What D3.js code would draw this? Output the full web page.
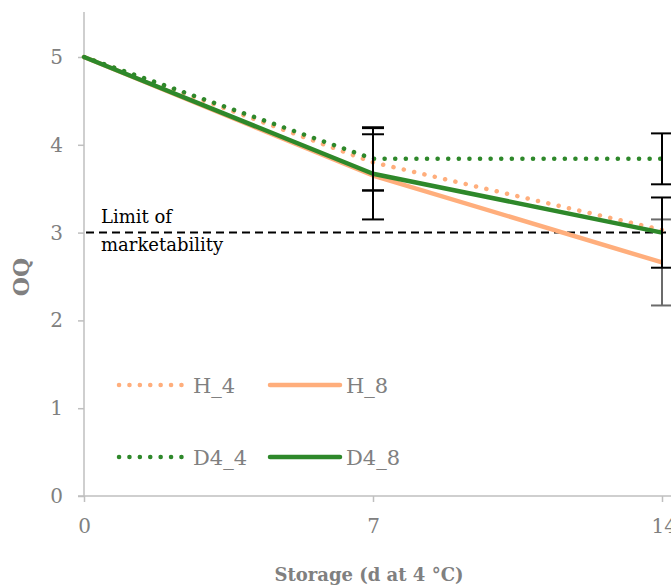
<!DOCTYPE html>
<html>
<head>
<meta charset="utf-8">
<script src="https://cdn.jsdelivr.net/npm/d3@7"></script>
<style>
  body { margin: 0; background: #fff; }
  text { font-family: 'DejaVu Serif', 'Liberation Serif', serif; }
</style>
</head>
<body>
<svg id="chart" width="671" height="587"></svg>
<script>
// data
const days = [0, 7, 14];
const xTicks = [0, 7, 14];
const yTicks = [0, 1, 2, 3, 4, 5];
const limitValue = 3;

const h4 = [5, 3.80, 3.03];
const h8 = [5, 3.65, 2.66];
const d44 = [5, 3.84, 3.84];
const d48 = [5, 3.67, 3.00];

const h4Err = [0, 0.32, 0];
const h8Err = [0, 0, 0.49];
const d44Err = [0, 0.36, 0.29];
const d48Err = [0, 0.52, 0.40];

const orange = '#ffae7c',
    green = '#2e882a';

const series = [
    { name: 'H_4', values: h4, err: h4Err, color: orange, dotted: true, errColor: '#000' },
    { name: 'H_8', values: h8, err: h8Err, color: orange, dotted: false, errColor: '#6b6b6b' },
    { name: 'D4_4', values: d44, err: d44Err, color: green, dotted: true, errColor: '#000' },
    { name: 'D4_8', values: d48, err: d48Err, color: green, dotted: false, errColor: '#000' }
];

const svg = d3.select('#chart');

const x = d3.scaleLinear().domain([0, 14]).range([84, 662]);
const y = d3.scaleLinear().domain([0, 5]).range([496, 57]);

// axes
const yAxis = svg.append('g')
    .attr('transform', 'translate(84,0)')
    .call(d3.axisLeft(y).tickValues(yTicks).tickSize(6).tickPadding(15).tickFormat(d3.format('d')));
yAxis.select('.domain').attr('d', 'M0,12V496');

const xAxis = svg.append('g')
    .attr('transform', 'translate(0,496)')
    .call(d3.axisBottom(x).tickValues(xTicks).tickSize(6).tickPadding(17).tickFormat(d3.format('d')));
xAxis.select('.domain').attr('d', 'M78,0H671');

svg.selectAll('.domain, .tick line')
    .attr('stroke', '#bfbfbf')
    .attr('stroke-width', 1.5);
svg.selectAll('.tick text')
    .attr('fill', '#808080')
    .style('font-size', '20px')
    .style('font-family', "'DejaVu Serif', serif");
xAxis.selectAll('.tick text').filter(d => d === 14).attr('text-anchor', 'start').attr('dx', -11);

// axis titles
svg.append('text')
    .attr('x', 369)
    .attr('y', 581)
    .attr('text-anchor', 'middle')
    .attr('fill', '#808080')
    .style('font-size', '18px')
    .style('font-weight', 'bold')
    .text('Storage (d at 4 °C)');

svg.append('text')
    .attr('transform', 'translate(29,277) rotate(-90)')
    .attr('text-anchor', 'middle')
    .attr('fill', '#808080')
    .style('font-size', '22px')
    .style('font-weight', 'bold')
    .text('OQ');

// limit line
svg.append('line')
    .attr('x1', x(0) + 2)
    .attr('x2', 671)
    .attr('y1', y(limitValue))
    .attr('y2', y(limitValue))
    .attr('stroke', '#000')
    .attr('stroke-width', 2)
    .attr('stroke-dasharray', '8,5');

const limitLabel = svg.append('text')
    .attr('fill', '#000')
    .style('font-size', '18px');
limitLabel.append('tspan').attr('x', 101).attr('y', 223).text('Limit of');
limitLabel.append('tspan').attr('x', 101).attr('y', 251).text('marketability');

// lines
const line = d3.line()
    .x((d, i) => x(days[i]))
    .y(d => y(d));

series.forEach(s => {
    svg.append('path')
        .attr('d', line(s.values))
        .attr('fill', 'none')
        .attr('stroke', s.color)
        .attr('stroke-width', 4.5)
        .attr('stroke-linecap', s.dotted ? 'round' : 'butt')
        .attr('stroke-linejoin', 'round')
        .attr('stroke-dasharray', s.dotted ? '0.1,10.5' : null);
});

// error bars, grey H_8 first so the black ones sit on top
const errOrder = [series[1], series[0], series[2], series[3]];
errOrder.forEach(s => {
    s.values.forEach((v, i) => {
        if (!s.err[i]) return;
        const cx = x(days[i]),
            top = y(v + s.err[i]),
            bot = y(v - s.err[i]);
        const g = svg.append('g').attr('stroke', s.errColor).attr('stroke-width', 2);
        g.append('line').attr('x1', cx).attr('x2', cx).attr('y1', top).attr('y2', bot);
        g.append('line').attr('x1', cx - 11).attr('x2', cx + 11).attr('y1', top).attr('y2', top);
        g.append('line').attr('x1', cx - 11).attr('x2', cx + 11).attr('y1', bot).attr('y2', bot);
    });
});

// legend
const legendPos = [
    { lx: 117, ly: 385 },
    { lx: 270, ly: 385 },
    { lx: 117, ly: 457 },
    { lx: 270, ly: 457 }
];

series.forEach((s, i) => {
    const p = legendPos[i];
    svg.append('line')
        .attr('x1', p.lx + (s.dotted ? 2 : 0))
        .attr('x2', p.lx + 70)
        .attr('y1', p.ly)
        .attr('y2', p.ly)
        .attr('stroke', s.color)
        .attr('stroke-width', 4.5)
        .attr('stroke-linecap', 'round')
        .attr('stroke-dasharray', s.dotted ? '0.1,10.3' : null);
    svg.append('text')
        .attr('x', p.lx + 76)
        .attr('y', p.ly + 8)
        .attr('fill', '#808080')
        .style('font-size', '21px')
        .text(s.name);
});
</script>
</body>
</html>
